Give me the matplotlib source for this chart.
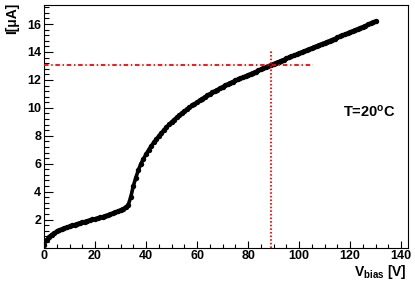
import matplotlib
matplotlib.use("Agg")
import matplotlib.pyplot as plt
from matplotlib.ticker import MultipleLocator, FixedLocator

plt.rcParams['font.family'] = ['Liberation Sans', 'DejaVu Sans']
plt.rcParams['mathtext.fontset'] = 'custom'
plt.rcParams['mathtext.rm'] = 'Liberation Sans:bold'
plt.rcParams['mathtext.bf'] = 'Liberation Sans:bold'
plt.rcParams['mathtext.it'] = 'Liberation Sans:bold'

# bias voltage [V]
v_bias = list(range(0, 131))
# leakage current [uA]
current = [
    0.20, 0.55, 0.78, 0.93, 1.05, 1.15, 1.24, 1.32, 1.39, 1.46,
    1.52, 1.58, 1.64, 1.70, 1.76, 1.81, 1.86, 1.91, 1.96, 2.01,
    2.06, 2.11, 2.16, 2.21, 2.27, 2.33, 2.39, 2.46, 2.53, 2.61,
    2.69, 2.78, 2.88, 3.05, 3.60, 4.40, 5.00, 5.55, 6.00, 6.35,
    6.68, 6.98, 7.26, 7.52, 7.76, 7.99, 8.21, 8.42, 8.62, 8.81,
    8.99, 9.16, 9.32, 9.48, 9.63, 9.77, 9.91, 10.04, 10.17, 10.29,
    10.41, 10.54, 10.66, 10.78, 10.89, 11.00, 11.11, 11.21, 11.31, 11.41,
    11.51, 11.61, 11.70, 11.79, 11.88, 11.96, 12.04, 12.12, 12.20, 12.28,
    12.36, 12.44, 12.52, 12.60, 12.68, 12.76, 12.84, 12.92, 13.00, 13.08,
    13.16, 13.24, 13.31, 13.39, 13.46, 13.54, 13.61, 13.69, 13.76, 13.84,
    13.91, 13.99, 14.06, 14.14, 14.21, 14.29, 14.36, 14.44, 14.51, 14.59,
    14.66, 14.74, 14.81, 14.89, 14.96, 15.04, 15.11, 15.19, 15.27, 15.35,
    15.43, 15.51, 15.58, 15.66, 15.73, 15.81, 15.89, 15.97, 16.05, 16.13,
    16.21,
]

# operating point crosshair
op_v = 88.8
op_i = 13.05
h_line_end = 105.5
v_line_top = 14.05

x_ticks = [0, 20, 40, 60, 80, 100, 120, 140]
y_ticks = [2, 4, 6, 8, 10, 12, 14, 16]

fig = plt.figure(figsize=(4.15, 2.81), dpi=100)
ax = fig.add_axes([44 / 415, 1 - 247.5 / 281, (408 - 44) / 415, (247.5 - 4.5) / 281])

ax.plot(v_bias, current, '-', color='black', lw=2.6, zorder=3,
        solid_capstyle='round')
ax.plot(v_bias, current, 'o', color='black', ms=3.9, mec='black', mew=0, zorder=3)

ax.plot([0, h_line_end], [op_i, op_i], color='#ff0000', lw=1.3,
        dashes=(2.5, 1.5, 0.8, 1.5), zorder=4)
ax.plot([op_v, op_v], [0, v_line_top], color='#ff0000', lw=1.3,
        dashes=(0.9, 1.1), zorder=4)

ax.set_xlim(0, 142.7)
ax.set_ylim(0, 17.4)
ax.xaxis.set_major_locator(FixedLocator(x_ticks))
ax.yaxis.set_major_locator(FixedLocator(y_ticks))
ax.xaxis.set_minor_locator(MultipleLocator(5))
ax.yaxis.set_minor_locator(MultipleLocator(0.4))

ax.tick_params(axis='both', which='both', direction='in', top=False, right=False,
               labelsize=9, colors='black', width=0.8)
ax.tick_params(axis='y', which='major', length=6.5, pad=2)
ax.tick_params(axis='y', which='minor', length=3.5)
ax.tick_params(axis='x', which='major', length=5, pad=2)
ax.tick_params(axis='x', which='minor', length=2.8)
for lab in ax.get_xticklabels() + ax.get_yticklabels():
    lab.set_fontweight('bold')
for sp in ax.spines.values():
    sp.set_linewidth(0.8)

fig.text(12 / 415, 1 - 3 / 281, "I[\u03bcA]", rotation=90, ha='center', va='top',
         fontsize=10, fontweight='bold')
fig.text(407 / 415, 1 - 276 / 281, r"V$_{\mathbf{bias}}$ [V]", ha='right', va='baseline',
         fontsize=10, fontweight='bold')
ax.text(117.3, 9.7, r"T=20$^{\mathbf{o}}$C", ha='left', va='center',
        fontsize=10.5, fontweight='bold')

fig.savefig("out.png", dpi=100)
